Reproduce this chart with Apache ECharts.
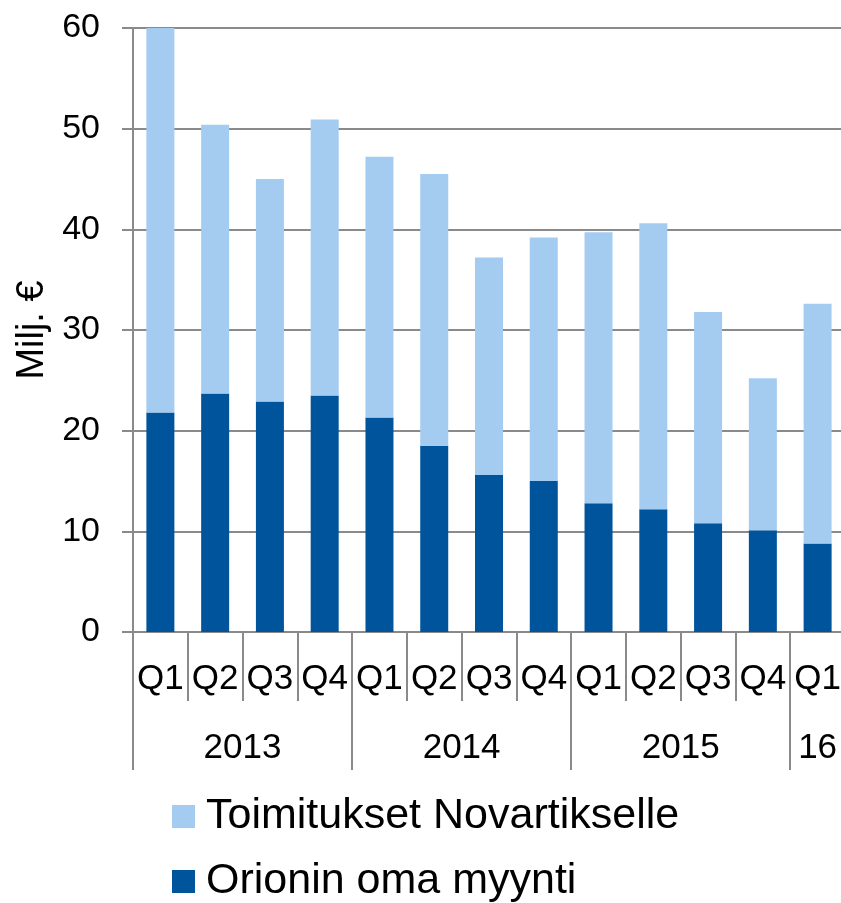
<!DOCTYPE html>
<html lang="fi">
<head>
  <meta charset="UTF-8">
  <title>Orion</title>
  <script src="https://cdn.jsdelivr.net/npm/echarts@6/dist/echarts.min.js"></script>
</head>
<body style="margin:0;background:#fff">
  <div id="main" style="width:841px;height:903px;"></div>
  <script type="text/javascript">
    // neljännekset ja vuodet (kaksitasoinen akseli)
    const quarters = ['Q1', 'Q2', 'Q3', 'Q4', 'Q1', 'Q2', 'Q3', 'Q4', 'Q1', 'Q2', 'Q3', 'Q4', 'Q1']
    const years = ['2013', '2014', '2015', '16']
    const yearSpans = [4, 4, 4, 1]

    // milj. euroa
    const omaMyynti = [21.8, 23.7, 22.9, 23.5, 21.3, 18.5, 15.6, 15.0, 12.8, 12.2, 10.8, 10.1, 8.8]
    const novartis = [38.2, 26.7, 22.1, 27.4, 25.9, 27.0, 21.6, 24.2, 26.9, 28.4, 21.0, 15.1, 23.8]

    const font = 'Liberation Sans'
    const gray = '#8a8a8a'

    // vuosien rajat ja keskikohdat
    const yearBounds = [0]
    const yearMids = []
    yearSpans.forEach((s, i) => {
      yearMids.push(yearBounds[i] + s / 2)
      yearBounds.push(yearBounds[i] + s)
    })

    var myChart = echarts.init(document.getElementById('main'))
    myChart.setOption({
      animation: false,
      textStyle: { fontFamily: font, color: '#000' },
      grid: { left: 133, right: -4, top: 28, bottom: 271, outerBoundsMode: 'none' },
      legend: {
        orient: 'vertical',
        left: 172,
        top: 795,
        height: 108,
        padding: 0,
        itemWidth: 23,
        itemHeight: 23,
        itemGap: 22,
        icon: 'rect',
        data: ['Toimitukset Novartikselle', 'Orionin oma myynti'],
        textStyle: { fontFamily: font, fontSize: 43, lineHeight: 43, color: '#000', padding: [0, 0, 0, 6] }
      },
      xAxis: [{
        type: 'category',
        data: quarters,
        position: 'bottom',
        axisLine: { show: true, lineStyle: { color: gray, width: 2 } },
        axisTick: { show: true, interval: 0, length: 69, lineStyle: { color: gray, width: 2 } },
        axisLabel: { interval: 0, fontSize: 35, lineHeight: 35, margin: 30, color: '#000' },
        splitLine: { show: false }
      }, {
        type: 'value',
        min: 0,
        max: quarters.length,
        position: 'bottom',
        axisLine: { show: false },
        axisTick: { show: true, customValues: yearBounds.slice(0, -1), length: 138, lineStyle: { color: gray, width: 2 } },
        axisLabel: {
          customValues: yearMids,
          fontSize: 35,
          lineHeight: 35,
          margin: 99,
          color: '#000',
          formatter: v => years[yearMids.indexOf(v)]
        },
        splitLine: { show: false }
      }],
      yAxis: {
        type: 'value',
        min: 0,
        max: 60,
        interval: 10,
        name: 'Milj. €',
        nameLocation: 'middle',
        nameRotate: 90,
        nameGap: 80,
        nameTextStyle: { fontFamily: font, fontSize: 38, color: '#000' },
        axisLine: { show: true, lineStyle: { color: gray, width: 2 } },
        axisTick: { show: true, length: 11, lineStyle: { color: gray, width: 2 } },
        axisLabel: { fontSize: 34, margin: 33, color: '#000' },
        splitLine: { lineStyle: { color: gray, width: 2 } }
      },
      series: [{
        name: 'Orionin oma myynti',
        type: 'bar',
        stack: 'yht',
        barWidth: 28,
        itemStyle: { color: '#00549C' },
        data: omaMyynti
      }, {
        name: 'Toimitukset Novartikselle',
        type: 'bar',
        stack: 'yht',
        barWidth: 28,
        itemStyle: { color: '#A4CCF0' },
        data: novartis
      }]
    })
  </script>
</body>
</html>
